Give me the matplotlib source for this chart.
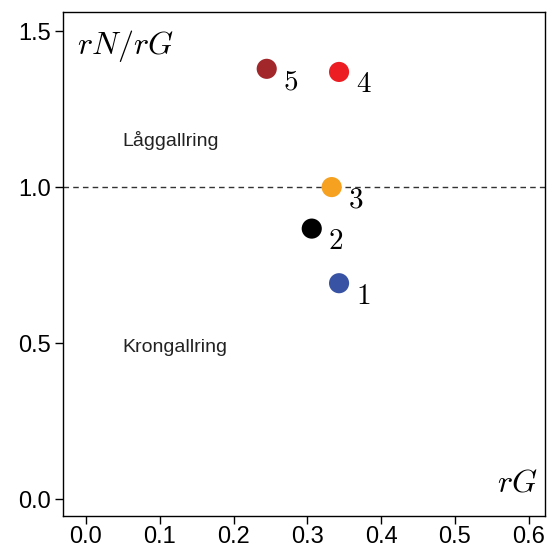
import matplotlib
matplotlib.use("Agg")
import matplotlib.pyplot as plt
from matplotlib.ticker import FormatStrFormatter

plt.rcParams["font.family"] = ["Liberation Sans", "DejaVu Sans"]
plt.rcParams["mathtext.fontset"] = "cm"

# treatment ratios
labels = ["1", "2", "3", "4", "5"]
rg = [0.343, 0.306, 0.333, 0.343, 0.245]
rn_rg = [0.692, 0.867, 1.0, 1.369, 1.379]
colors = ["#3953a4", "#000000", "#f6a11f", "#ec1e24", "#a1272b"]

xticks = [0.0, 0.1, 0.2, 0.3, 0.4, 0.5, 0.6]
yticks = [0.0, 0.5, 1.0, 1.5]

fig = plt.figure(figsize=(5.47, 5.49), dpi=100)
ax = fig.add_axes([0.1152, 0.0601, 0.8811, 0.9180])

ax.axhline(1.0, color="#333333", linestyle=(0, (4, 3)), linewidth=1.0, zorder=1)
ax.scatter(rg, rn_rg, s=210, c=colors, edgecolors="none", zorder=3)
for x, y, lab in zip(rg, rn_rg, labels):
    ax.annotate(rf"$\mathrm{{{lab}}}$", (x, y), xytext=(12, -9),
                textcoords="offset points", ha="left", va="center", fontsize=21)

ax.text(0.05, 1.15, "Låggallring", fontsize=14, ha="left", va="center", color="#222222")
ax.text(0.05, 0.485, "Krongallring", fontsize=14, ha="left", va="center", color="#222222")
ax.text(0.028, 0.968, r"$rN/rG$", transform=ax.transAxes, fontsize=23,
        ha="left", va="top")
ax.text(0.984, 0.035, r"$rG$", transform=ax.transAxes, fontsize=23,
        ha="right", va="bottom")

ax.set_xlim(-0.031, 0.622)
ax.set_ylim(-0.054, 1.561)
ax.set_xticks(xticks)
ax.set_yticks(yticks)
ax.xaxis.set_major_formatter(FormatStrFormatter("%.1f"))
ax.yaxis.set_major_formatter(FormatStrFormatter("%.1f"))
ax.tick_params(direction="out", length=6, width=1, labelsize=17)
ax.tick_params(axis="x", pad=1.5)
ax.tick_params(axis="y", pad=3)
for spine in ax.spines.values():
    spine.set_linewidth(1.0)

fig.savefig("out.png", dpi=100)
